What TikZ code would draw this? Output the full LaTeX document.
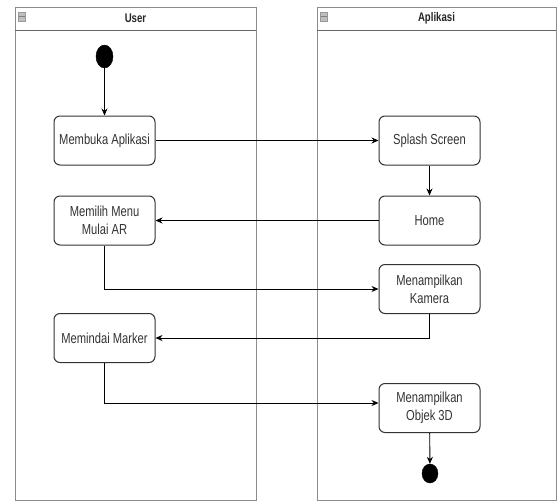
\documentclass[tikz,border=0pt]{standalone}
\usepackage{fontspec}
\setmainfont{Liberation Sans}
\usetikzlibrary{arrows.meta,shapes.geometric}
\begin{document}
\begin{tikzpicture}[x=1pt,y=-1pt,
  lane/.style={draw=black!45,line width=1pt},
  hdr/.style={draw=black!60,line width=1pt},
  hicon/.style={draw=black!40,fill=black!25,line width=0.5pt},
  act/.style={draw=black!80,line width=1pt,rounded corners=6pt,fill=white,
    minimum width=101pt,minimum height=49pt,align=center,text=black!80,
    font=\fontsize{14.5}{18}\selectfont,inner sep=1pt},
  dot/.style={ellipse,fill=black,draw=black,inner sep=0pt},
  flow/.style={draw=black,line width=0.9pt,-{Stealth[length=7pt,width=6pt]}},
  ttl/.style={font=\bfseries\fontsize{12.5}{14}\selectfont,text=black!85}
]
\fill[white] (0,0) rectangle (557,501);
\useasboundingbox (0,0) rectangle (557,501);
% lanes
\draw[lane] (15,7) rectangle (256,500);
\draw[hdr] (15,30) -- (256,30);
\draw[lane] (317,7) rectangle (556,500);
\draw[hdr] (317,30) -- (556,30);
\draw[hicon] (18,12) rectangle (25,21);
\draw[black!50,line width=0.6pt] (18.5,16.5) -- (24.5,16.5);
\draw[hicon] (320,12) rectangle (327,21);
\draw[black!50,line width=0.6pt] (320.5,16.5) -- (326.5,16.5);
\node[ttl,xscale=0.77] (tuser) at (135.5,18.5) {User};
\node[ttl,xscale=0.77] (tapp) at (436.5,18.5) {Aplikasi};
% nodes
\node[dot,minimum width=17pt,minimum height=23pt] (start) at (104.5,56.5) {};
\node[act] (mb) at (104.5,140.5) {\scalebox{0.77}[1]{Membuka Aplikasi}};
\node[act] (mm) at (104.5,220.5) {\scalebox{0.77}[1]{Memilih Menu}\\\scalebox{0.77}[1]{Mulai AR}};
\node[act] (mk) at (104.5,338) {\scalebox{0.77}[1]{Memindai Marker}};
\node[act] (ss) at (429.5,140.5) {\scalebox{0.77}[1]{Splash Screen}};
\node[act] (home) at (429.5,220.5) {\scalebox{0.77}[1]{Home}};
\node[act] (kam) at (429.5,289) {\scalebox{0.77}[1]{Menampilkan}\\\scalebox{0.77}[1]{Kamera}};
\node[act] (obj) at (429.5,408) {\scalebox{0.77}[1]{Menampilkan}\\\scalebox{0.77}[1]{Objek 3D}};
\node[dot,minimum width=16pt,minimum height=19pt] (end) at (430,473.5) {};
% connectors
\draw[flow] (start) -- (mb);
\draw[flow] (mb) -- (ss);
\draw[flow] (ss) -- (home);
\draw[flow] (home) -- (mm);
\draw[flow] (mm.south) |- (kam.west);
\draw[flow] (kam.south) |- (mk.east);
\draw[flow] (mk.south) |- ([yshift=5pt]obj.west);
\draw[flow] (obj) -- (end);
\end{tikzpicture}
\end{document}
